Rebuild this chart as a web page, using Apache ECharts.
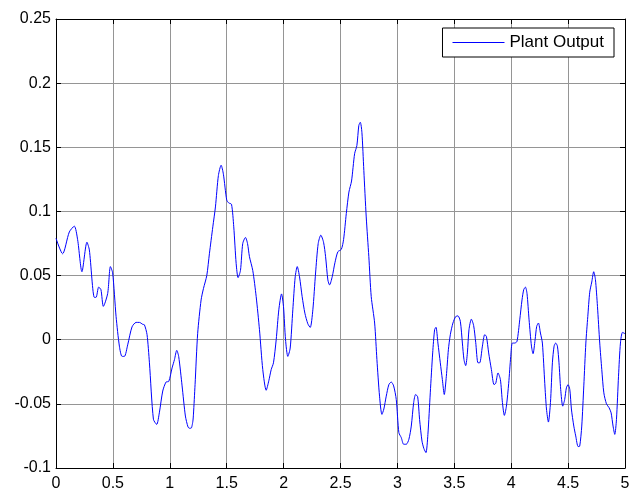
<!DOCTYPE html>
<html>
<head>
<meta charset="utf-8">
<script src="https://cdn.jsdelivr.net/npm/echarts@6/dist/echarts.min.js"></script>
<style>
html,body{margin:0;padding:0;background:#fff;}
#chart{width:638px;height:492px;}
</style>
</head>
<body>
<div id="chart"></div>
<script>
const seriesName = 'Plant Output';
const xTicks = [0, 0.5, 1, 1.5, 2, 2.5, 3, 3.5, 4, 4.5, 5];
const yTicks = [-0.1, -0.05, 0, 0.05, 0.1, 0.15, 0.2, 0.25];
const times = [
0,0.058,0.117,0.161,0.19,0.228,0.272,0.293,0.337,0.352,0.375,0.395,0.416,0.454,0.478,0.498,
0.528,0.557,0.580,0.601,0.630,0.668,0.704,0.733,0.762,0.777,0.80,0.821,0.856,0.885,0.908,0.938,
0.967,0.991,1.02,1.041,1.061,1.078,1.108,1.137,1.16,1.172,1.187,1.202,1.208,1.222,1.245,1.275,
1.296,1.325,1.348,1.378,1.401,1.427,1.451,1.471,1.50,1.518,1.542,1.562,1.583,1.60,1.621,1.641,
1.665,1.683,1.70,1.729,1.759,1.788,1.817,1.847,1.870,1.891,1.911,1.935,1.958,1.982,1.999,2.017,
2.037,2.058,2.081,2.102,2.12,2.14,2.163,2.187,2.213,2.234,2.257,2.281,2.304,2.327,2.351,2.369,
2.389,2.404,2.427,2.451,2.477,2.507,2.527,2.551,2.574,2.597,2.624,2.644,2.661,2.674,2.688,2.705,
2.726,2.749,2.77,2.80,2.82,2.843,2.864,2.881,2.902,2.925,2.946,2.967,2.99,3.013,3.034,3.055,
3.078,3.101,3.122,3.143,3.16,3.178,3.195,3.216,3.233,3.251,3.268,3.289,3.31,3.327,3.339,3.356,
3.377,3.395,3.412,3.43,3.448,3.465,3.488,3.512,3.532,3.553,3.571,3.585,3.60,3.615,3.629,3.65,
3.67,3.688,3.708,3.723,3.747,3.767,3.782,3.802,3.826,3.849,3.864,3.884,3.905,3.923,3.94,3.958,
3.978,3.996,4.01,4.031,4.051,4.075,4.095,4.11,4.125,4.139,4.157,4.178,4.192,4.21,4.224,4.239,
4.257,4.274,4.295,4.31,4.327,4.345,4.362,4.377,4.391,4.406,4.42,4.435,4.453,4.47,4.485,4.50,
4.515,4.529,4.55,4.567,4.588,4.602,4.62,4.638,4.656,4.673,4.69,4.708,4.725,4.74,4.758,4.778,
4.796,4.814,4.837,4.86,4.878,4.895,4.91,4.925,4.943,4.96,4.978,5.0
];
const outputValues = [
0.079,0.067,0.084,0.0885,0.078,0.053,0.076,0.070,0.033,0.033,0.041,0.039,0.026,0.036,0.057,0.052,
0.018,-0.005,-0.013,-0.013,-0.004,0.010,0.0135,0.0135,0.012,0.0116,0.004,-0.018,-0.062,-0.066,-0.057,-0.040,
-0.033,-0.0325,-0.022,-0.0155,-0.0083,-0.013,-0.036,-0.0595,-0.068,-0.069,-0.069,-0.064,-0.058,-0.035,0.005,0.031,
0.040,0.050,0.067,0.088,0.1035,0.128,0.136,0.129,0.109,0.1066,0.1056,0.088,0.0595,0.0484,0.054,0.075,
0.0797,0.075,0.0647,0.054,0.0336,0.0078,-0.0233,-0.0394,-0.032,-0.0233,-0.018,0,0.0233,0.0357,0.0259,0,
-0.013,-0.0065,0.0233,0.049,0.057,0.049,0.0336,0.0207,0.0124,0.0096,0.0233,0.052,0.075,0.0815,0.076,0.0647,
0.0466,0.0427,0.049,0.0600,0.0686,0.0704,0.078,0.0984,0.1151,0.1237,0.145,0.1514,0.167,0.1695,0.1617,0.132,
0.0957,0.0647,0.0336,0.013,-0.0155,-0.044,-0.0582,-0.054,-0.044,-0.035,-0.033,-0.036,-0.0466,-0.0725,-0.0763,-0.0815,
-0.0815,-0.0776,-0.0673,-0.049,-0.0427,-0.0445,-0.0621,-0.079,-0.0849,-0.088,-0.0738,-0.0414,-0.0103,0.0078,0.0097,-0.0026,
-0.018,-0.031,-0.0427,-0.0285,-0.0078,0.0039,0.013,0.018,0.0186,0.0143,-0.0026,-0.0155,-0.0202,-0.0103,0.0078,0.016,
0.011,-0.002,-0.018,-0.018,-0.005,0.0039,0.0026,-0.0103,-0.0233,-0.035,-0.034,-0.0259,-0.031,-0.049,-0.059,-0.0518,
-0.034,-0.013,-0.0026,-0.0026,-0.0013,0.0155,0.031,0.039,0.041,0.036,0.0155,-0.005,-0.0109,0,0.0104,0.013,
0.0052,-0.0026,-0.034,-0.054,-0.0642,-0.049,-0.018,-0.005,-0.0026,-0.005,-0.018,-0.0388,-0.0518,-0.0466,-0.0375,-0.035,
-0.0388,-0.054,-0.0673,-0.075,-0.0833,-0.083,-0.0673,-0.036,-0.0026,0.018,0.037,0.045,0.053,0.047,0.026,-0.0026,
-0.0233,-0.0414,-0.050,-0.053,-0.057,-0.0673,-0.0738,-0.0621,-0.0285,-0.0026,0.0057,0.0047
];

const data = times.map((t, i) => [t, outputValues[i]]);
const fmt = v => String(+v.toFixed(2));
const font = 'Liberation Sans, Arial, sans-serif';

const chart = echarts.init(document.getElementById('chart'), null, {renderer: 'canvas'});
const baseX = {
  type: 'value', min: xTicks[0], max: xTicks[xTicks.length - 1], interval: 0.5,
  axisLine: {show: true, onZero: false, lineStyle: {color: '#000', width: 1}},
  axisTick: {show: true, inside: true, length: 5, lineStyle: {color: '#000'}},
};
const baseY = {
  type: 'value', min: yTicks[0], max: yTicks[yTicks.length - 1], interval: 0.05,
  axisLine: {show: true, onZero: false, lineStyle: {color: '#000', width: 1}},
  axisTick: {show: true, inside: true, length: 5, lineStyle: {color: '#000'}},
};
chart.setOption({
  animation: false,
  backgroundColor: '#fff',
  grid: {left: 56, right: 13, top: 19, bottom: 23, containLabel: false},
  xAxis: [
    Object.assign({}, baseX, {
      position: 'bottom',
      axisLabel: {color: '#000', fontSize: 16, fontFamily: font, margin: 8, formatter: fmt},
      splitLine: {show: true, lineStyle: {color: '#959595', width: 1}}
    }),
    Object.assign({}, baseX, {
      position: 'top', axisLabel: {show: false}, splitLine: {show: false}
    })
  ],
  yAxis: [
    Object.assign({}, baseY, {
      position: 'left',
      axisLabel: {color: '#000', fontSize: 16, fontFamily: font, margin: 5, formatter: fmt},
      splitLine: {show: true, lineStyle: {color: '#959595', width: 1}}
    }),
    Object.assign({}, baseY, {
      position: 'right', axisLabel: {show: false}, splitLine: {show: false}
    })
  ],
  legend: {
    show: true,
    data: [{name: seriesName, icon: 'path://M0,0 L52,0 L52,1 L0,1 Z'}],
    right: 24, top: 28,
    orient: 'horizontal',
    backgroundColor: '#fff',
    borderColor: '#000', borderWidth: 1, borderRadius: 0,
    padding: [6, 10, 6, 10],
    itemWidth: 52, itemHeight: 14, itemGap: 5,
    itemStyle: {color: '#0000ff'},
    textStyle: {color: '#000', fontSize: 17, fontFamily: font}
  },
  series: [{
    name: seriesName,
    type: 'line',
    xAxisIndex: 0, yAxisIndex: 0,
    data: data,
    smooth: 0.25,
    symbol: 'none',
    showSymbol: false,
    lineStyle: {color: '#0000ff', width: 1},
    itemStyle: {color: '#0000ff'},
    z: 5
  }]
});
</script>
</body>
</html>
